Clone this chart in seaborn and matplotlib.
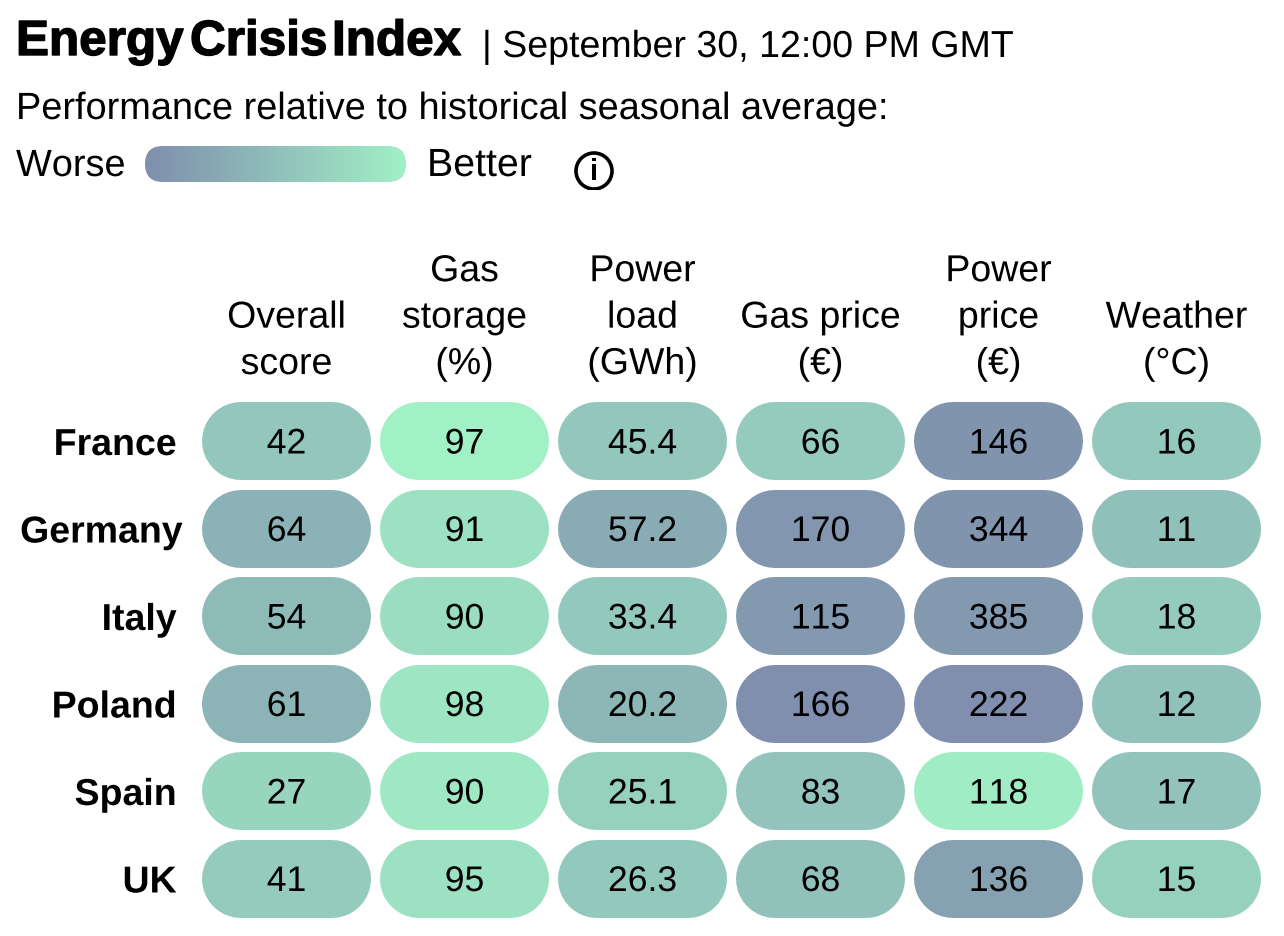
import numpy as np
import pandas as pd
import matplotlib
matplotlib.use("Agg")
import matplotlib.pyplot as plt
import matplotlib.patheffects as pe
import seaborn as sns
from matplotlib.colors import LinearSegmentedColormap
from matplotlib.patches import FancyBboxPatch, Circle
from matplotlib.transforms import ScaledTranslation

countries = ["France", "Germany", "Italy", "Poland", "Spain", "UK"]
columns = ["Overall\nscore", "Gas\nstorage\n(%)", "Power\nload\n(GWh)",
           "Gas price\n(€)", "Power\nprice\n(€)", "Weather\n(°C)"]
overall = ["42", "64", "54", "61", "27", "41"]
storage = ["97", "91", "90", "98", "90", "95"]
load = ["45.4", "57.2", "33.4", "20.2", "25.1", "26.3"]
gas_price = ["66", "170", "115", "166", "83", "68"]
power_price = ["146", "344", "385", "222", "118", "136"]
weather = ["16", "11", "18", "12", "17", "15"]

# Position of each cell on the Worse (0) to Better (1) colour scale, estimated from its colour
overall_perf = [0.58, 0.36, 0.45, 0.38, 0.72, 0.62]
storage_perf = [1.00, 0.85, 0.80, 0.88, 0.92, 0.85]
load_perf = [0.58, 0.30, 0.60, 0.40, 0.68, 0.60]
gas_perf = [0.62, 0.08, 0.10, 0.00, 0.55, 0.52]
power_perf = [0.05, 0.05, 0.10, 0.00, 0.97, 0.20]
weather_perf = [0.60, 0.50, 0.62, 0.52, 0.55, 0.68]

W, H = 1284, 936
FONT = "Liberation Sans"
sns.set_style("white")
plt.rcParams["font.family"] = [FONT, "DejaVu Sans"]
plt.rcParams["text.kerning_factor"] = 6
plt.rcParams["text.hinting"] = "no_hinting"
plt.rcParams["path.effects"] = [pe.Normal()]

cmap = LinearSegmentedColormap.from_list("worse_better", ["#7F8FAD", "#A1F0C6"])

perf = pd.DataFrame(
    np.array([overall_perf, storage_perf, load_perf, gas_perf, power_perf, weather_perf]).T,
    index=countries, columns=columns)
labels = np.array([overall, storage, load, gas_price, power_price, weather]).T

fig = plt.figure(figsize=(W / 100, H / 100), dpi=100, facecolor="white")


def axes_px(x0, y0, x1, y1):
    return fig.add_axes([x0 / W, 1 - y1 / H, (x1 - x0) / W, (y1 - y0) / H])


PITCH_X, PITCH_Y = 178.0, 87.5
PILL_W, PILL_H = 169.0, 78.0
ax = axes_px(197.5, 397.25, 197.5 + 6 * PITCH_X, 397.25 + 6 * PITCH_Y)
sns.heatmap(perf, ax=ax, cmap=cmap, vmin=0, vmax=1, cbar=False, annot=labels, fmt="",
            annot_kws={"fontsize": 25.6, "color": "black", "va": "baseline"})
ax.collections[0].set_visible(False)

half_run = (PILL_W - PILL_H) / 2 / PITCH_X
for r in range(perf.shape[0]):
    for c in range(perf.shape[1]):
        ax.plot([c + 0.5 - half_run, c + 0.5 + half_run], [r + 0.5, r + 0.5],
                color=cmap(perf.iloc[r, c]), linewidth=PILL_H * 0.72,
                solid_capstyle="round", zorder=1, scalex=False, scaley=False)
for t in ax.texts:
    t.set_transform(t.get_transform() + ScaledTranslation(0, -12.5 / 100, fig.dpi_scale_trans))

ax.xaxis.tick_top()
ax.tick_params(axis="both", length=0)
ax.tick_params(axis="x", pad=11, labelsize=27, labelcolor="black", rotation=0)
ax.tick_params(axis="y", pad=15, labelsize=27, labelcolor="black", rotation=0)
for lab in ax.get_xticklabels():
    lab.set_linespacing(1.4)
    lab.set_ha("center")
    lab.set_va("bottom")
for lab in ax.get_yticklabels():
    lab.set_fontweight("bold")
    lab.set_va("baseline")
    dx = 6 / 100 if lab.get_text() == "Germany" else 0
    lab.set_transform(lab.get_transform() + ScaledTranslation(dx, -14 / 100, fig.dpi_scale_trans))


def text_px(x, y, s, size, **kw):
    return fig.text(x / W, 1 - y / H, s, fontsize=size, va="baseline", color="black", **kw)


for word, x in zip(["Energy", "Crisis", "Index"], [16, 190, 332]):
    t = text_px(x, 55, word, 35.6, fontweight="bold")
    t.set_path_effects([pe.withStroke(linewidth=1.0, foreground="black")])
text_px(482, 57, "| September 30, 12:00 PM GMT", 27.05)
text_px(16, 119, "Performance relative to historical seasonal average:", 27.3)
text_px(16, 176, "Worse", 27.3)
text_px(427, 176, "Better", 28.3)

# Colour scale legend
lax = axes_px(145, 146, 406, 182)
im = lax.imshow(np.linspace(0, 1, 256)[None, :], cmap=cmap, aspect="auto", vmin=0, vmax=1,
                extent=(0, 261, 36, 0))
clip = FancyBboxPatch((0, 0), 261, 36, boxstyle="round,pad=0,rounding_size=18",
                      transform=lax.transData, facecolor="none", edgecolor="none")
lax.add_patch(clip)
im.set_clip_path(clip)
lax.axis("off")

# Info icon
iax = axes_px(570, 150, 618, 190)
iax.set_xlim(0, 48)
iax.set_ylim(40, 0)
iax.axis("off")
iax.add_patch(Circle((24, 21), 18, facecolor="white", edgecolor="black", linewidth=2.6))
iax.text(24, 22, "i", fontsize=22, fontweight="bold", ha="center", va="center", color="black")

fig.savefig("out.png", dpi=100, facecolor="white")
